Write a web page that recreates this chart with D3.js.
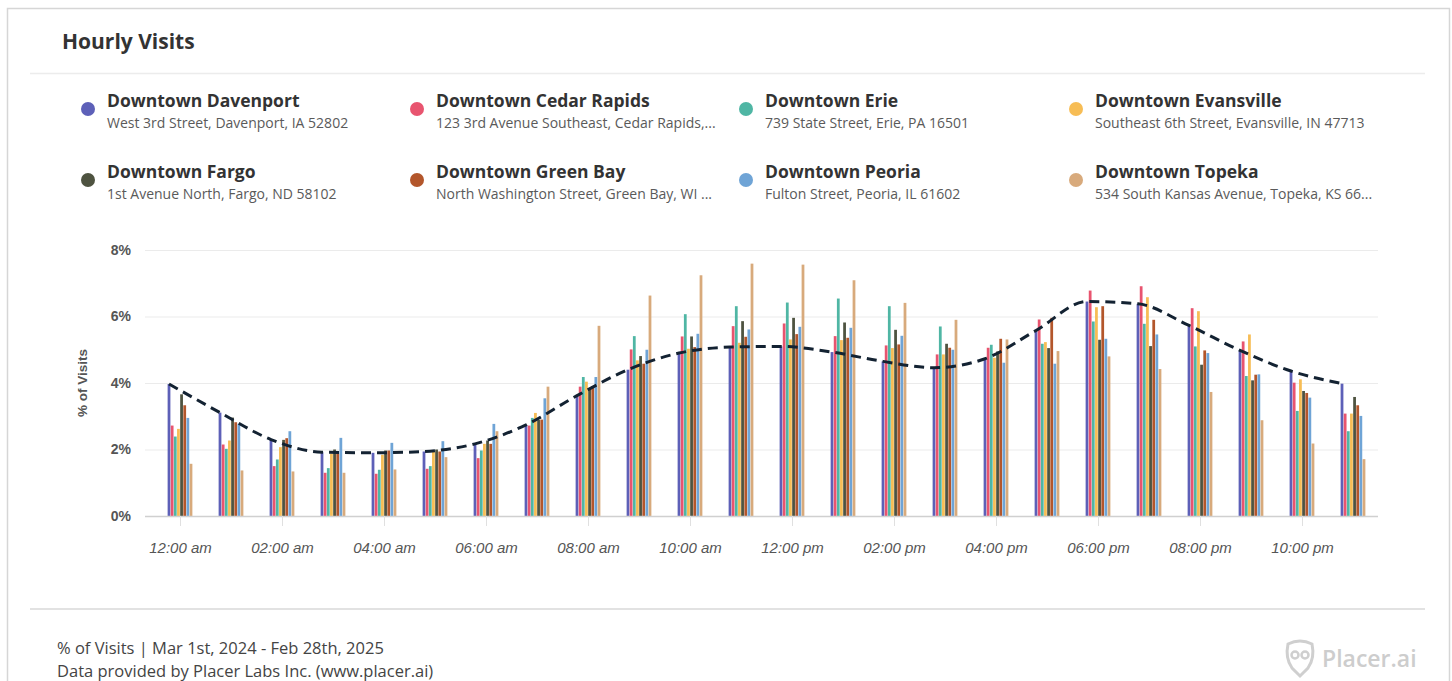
<!DOCTYPE html>
<html>
<head>
<meta charset="utf-8">
<script src="https://cdn.jsdelivr.net/npm/d3@7"></script>
<style>
  html, body { margin: 0; padding: 0; background: #fff; }
  svg { display: block; }
</style>
</head>
<body>
<svg id="chart" width="1452" height="681"></svg>
<script>
// Hour buckets on the x axis
const hours = ["00","01","02","03","04","05","06","07","08","09","10","11",
               "12","13","14","15","16","17","18","19","20","21","22","23"];
const tickHours = ["00","02","04","06","08","10","12","14","16","18","20","22"];
const tickLabels = ["12:00 am","02:00 am","04:00 am","06:00 am","08:00 am","10:00 am",
                    "12:00 pm","02:00 pm","04:00 pm","06:00 pm","08:00 pm","10:00 pm"];
const yTicks = [0, 2, 4, 6, 8];

// Locations shown in the legend
const names = ["Downtown Davenport","Downtown Cedar Rapids","Downtown Erie","Downtown Evansville",
               "Downtown Fargo","Downtown Green Bay","Downtown Peoria","Downtown Topeka"];
const addresses = ["West 3rd Street, Davenport, IA 52802","123 3rd Avenue Southeast, Cedar Rapids,...",
                   "739 State Street, Erie, PA 16501","Southeast 6th Street, Evansville, IN 47713",
                   "1st Avenue North, Fargo, ND 58102","North Washington Street, Green Bay, WI ...",
                   "Fulton Street, Peoria, IL 61602","534 South Kansas Avenue, Topeka, KS 66..."];
const colors = ["#5d60b8","#e8546f","#4fb6a4","#f7bd55","#4e5340","#b3562b","#6fa4d6","#d8aa7c"];

// % of visits per hour, one array per location
const davenport   = [3.97,3.11,2.30,1.92,1.90,1.94,2.17,2.74,3.62,4.40,4.90,5.08,5.10,4.93,4.65,4.46,4.73,5.58,6.45,6.38,5.73,4.98,4.36,3.98];
const cedarRapids = [2.72,2.15,1.50,1.30,1.27,1.42,1.74,2.72,3.89,5.01,5.40,5.71,5.79,5.41,5.13,4.86,5.06,5.91,6.78,6.91,6.25,5.25,4.01,3.08];
const erie        = [2.39,2.02,1.70,1.44,1.39,1.50,1.97,2.95,4.18,5.41,6.07,6.31,6.42,6.54,6.31,5.70,5.15,5.18,5.85,5.78,5.10,4.21,3.16,2.55];
const evansville  = [2.62,2.27,2.07,1.87,1.84,1.94,2.17,3.10,4.04,4.68,5.03,5.21,5.31,5.29,5.05,4.86,4.76,5.23,6.28,6.58,6.16,5.46,4.11,3.08];
const fargo       = [3.66,2.96,2.29,2.00,1.97,2.00,2.27,2.89,3.84,4.81,5.40,5.86,5.96,5.82,5.60,5.18,4.95,5.05,5.30,5.11,4.55,4.08,3.76,3.58];
const greenBay    = [3.33,2.82,2.34,1.95,1.97,1.94,2.17,2.90,3.91,4.58,5.08,5.39,5.47,5.36,5.16,5.06,5.33,5.96,6.31,5.90,4.98,4.25,3.70,3.33];
const peoria      = [2.95,2.77,2.55,2.35,2.20,2.25,2.77,3.54,4.18,5.00,5.48,5.61,5.69,5.66,5.42,5.00,4.61,4.58,5.33,5.46,4.90,4.26,3.56,3.01];
const topeka      = [1.57,1.37,1.34,1.30,1.40,1.77,2.55,3.89,5.72,6.63,7.24,7.59,7.56,7.09,6.41,5.90,5.31,4.96,4.80,4.42,3.73,2.88,2.18,1.71];

const seriesValues = [davenport, cedarRapids, erie, evansville, fargo, greenBay, peoria, topeka];

const svg = d3.select("#chart");
const sans = "'Open Sans', 'Noto Sans', sans-serif";
const axisFont = "'Liberation Sans', Arial, sans-serif";

// Card frame and separators
svg.append("rect").attr("x", 7.5).attr("y", 8.5).attr("width", 1442).attr("height", 690)
  .attr("fill", "#fff").attr("stroke", "#d6d6d6").attr("stroke-width", 1.5);
svg.append("line").attr("x1", 30).attr("x2", 1425).attr("y1", 73.5).attr("y2", 73.5)
  .attr("stroke", "#ececec").attr("stroke-width", 1.5);
svg.append("line").attr("x1", 30).attr("x2", 1425).attr("y1", 609).attr("y2", 609)
  .attr("stroke", "#e2e2e2").attr("stroke-width", 2);

svg.append("text").attr("x", 62).attr("y", 49).text("Hourly Visits")
  .attr("font-family", sans).attr("font-weight", 700).attr("font-size", 21).attr("fill", "#333");

// Legend: 4 columns x 2 rows
const legendCols = [88, 417, 746, 1076];
const legendRows = [108, 179];
const legend = svg.append("g");
names.forEach((n, i) => {
  const cx = legendCols[i % 4], cy = legendRows[Math.floor(i / 4)];
  const g = legend.append("g");
  g.append("circle").attr("cx", cx).attr("cy", cy + 1).attr("r", 7).attr("fill", colors[i]);
  g.append("text").attr("x", cx + 19).attr("y", cy - 1).text(n)
    .attr("font-family", sans).attr("font-weight", 700).attr("font-size", 17.5).attr("fill", "#333");
  g.append("text").attr("x", cx + 19).attr("y", cy + 20).text(addresses[i])
    .attr("font-family", sans).attr("font-size", 14).attr("fill", "#5a5a5a");
});

// Scales
const x0 = d3.scaleBand().domain(hours).range([154.5, 1378.5]).paddingInner(0.5).paddingOuter(0.25);
const x1 = d3.scaleBand().domain(d3.range(names.length)).range([0, x0.bandwidth()]).padding(0.12);
const y = d3.scaleLinear().domain([0, 8]).range([516, 250]);

// Grid lines
svg.append("g").selectAll("line").data(yTicks.filter(t => t > 0)).join("line")
  .attr("x1", 145).attr("x2", 1378)
  .attr("y1", d => y(d) + 0.5).attr("y2", d => y(d) + 0.5)
  .attr("stroke", "#ebebeb").attr("stroke-width", 1);

// Y axis labels
const yAxis = svg.append("g").attr("transform", "translate(145,0)")
  .call(d3.axisLeft(y).tickValues(yTicks).tickFormat(d => d + "%").tickSize(0).tickPadding(14));
yAxis.select(".domain").remove();
yAxis.selectAll("text").attr("font-family", axisFont).attr("font-weight", 700)
  .attr("font-size", 14).attr("fill", "#555");

svg.append("text").attr("transform", "translate(87,383) rotate(-90)")
  .attr("text-anchor", "middle").text("% of Visits")
  .attr("font-family", axisFont).attr("font-weight", 700).attr("font-size", 13.5).attr("fill", "#555");

// Bars
const groups = svg.append("g").selectAll("g").data(hours).join("g")
  .attr("transform", d => `translate(${x0(d)},0)`);
groups.selectAll("rect")
  .data((h, hi) => seriesValues.map((vals, si) => ({ si, v: vals[hi] })))
  .join("rect")
  .attr("x", d => x1(d.si))
  .attr("width", x1.bandwidth())
  .attr("y", d => y(d.v))
  .attr("height", d => y(0) - y(d.v))
  .attr("fill", d => colors[d.si]);

// X axis
const xAxisScale = d3.scalePoint().domain(hours).range([x0(hours[0]) + x0.bandwidth() / 2,
  x0(hours[hours.length - 1]) + x0.bandwidth() / 2]);
const xAxis = svg.append("g").attr("transform", `translate(0,${y(0)})`)
  .call(d3.axisBottom(xAxisScale).tickValues(tickHours)
    .tickFormat(h => tickLabels[tickHours.indexOf(h)]).tickSize(10).tickPadding(16));
xAxis.select(".domain").attr("d", "M145,0.5H1378").attr("stroke", "#d0d0d0").attr("stroke-width", 1.5);
xAxis.selectAll(".tick line").attr("stroke", "#e0e0e0");
xAxis.selectAll("text").attr("font-family", axisFont).attr("font-style", "italic")
  .attr("font-size", 15).attr("fill", "#555");

// Dashed trend line through the first location's values
const line = d3.line()
  .x((v, i) => x0(hours[i]) + x1(0) + x1.bandwidth() / 2)
  .y(v => y(v))
  .curve(d3.curveMonotoneX);
svg.append("path").datum(davenport).attr("d", line)
  .attr("fill", "none").attr("stroke", "#132232").attr("stroke-width", 3)
  .attr("stroke-dasharray", "10,6");

// Footer
svg.append("text").attr("x", 57).attr("y", 654).text("% of Visits | Mar 1st, 2024 - Feb 28th, 2025")
  .attr("font-family", sans).attr("font-size", 16.5).attr("fill", "#444");
svg.append("text").attr("x", 57).attr("y", 677).text("Data provided by Placer Labs Inc. (www.placer.ai)")
  .attr("font-family", sans).attr("font-size", 16.5).attr("fill", "#444");

// Placer.ai mark
const logo = svg.append("g").attr("transform", "translate(1300,658)");
logo.append("path")
  .attr("d", "M-12,-14 Q0,-20 12,-14 Q15,0 8,10 L0,18 L-8,10 Q-15,0 -12,-14 Z")
  .attr("fill", "none").attr("stroke", "#cfcfcf").attr("stroke-width", 3);
logo.append("circle").attr("cx", -5).attr("cy", -3).attr("r", 3.5).attr("fill", "none").attr("stroke", "#cfcfcf").attr("stroke-width", 2.5);
logo.append("circle").attr("cx", 5).attr("cy", -3).attr("r", 3.5).attr("fill", "none").attr("stroke", "#cfcfcf").attr("stroke-width", 2.5);
logo.append("text").attr("x", 22).attr("y", 9).text("Placer.ai")
  .attr("font-family", sans).attr("font-weight", 600).attr("font-size", 23).attr("fill", "#cdcdcd");
</script>
</body>
</html>
